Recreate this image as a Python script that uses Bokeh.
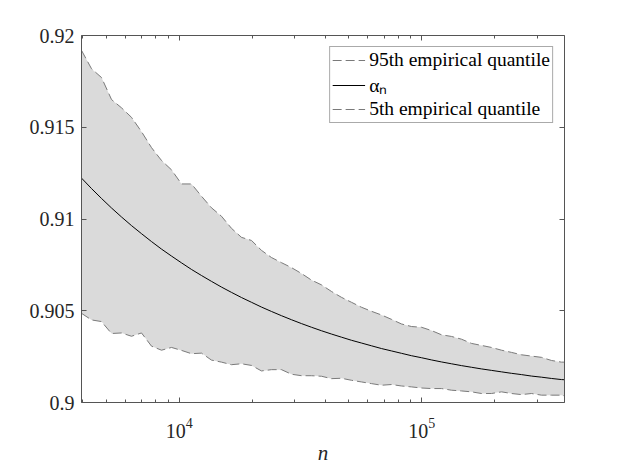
from bokeh.plotting import figure
from bokeh.models import (LogAxis, LinearAxis, FixedTicker, Legend, LegendItem,
                          Range1d)
from bokeh.embed import file_html
from bokeh.resources import INLINE

# sample sizes n
n_vals = [3956, 4350, 4783, 5260, 5783, 6359, 6992, 7688, 8454, 9295,
          10221, 11239, 12358, 13589, 14940, 16428, 18064, 19862, 21840, 24013,
          26405, 29033, 31924, 35103, 38598, 42441, 46666, 51312, 56421, 62039,
          68215, 75007, 82475, 90686, 99715, 109643, 120559, 132563, 145761, 160272,
          176230, 193776, 213069, 234283, 257608, 283256, 311459, 342470, 376566, 387443]

# 95th empirical quantile
q95 = [0.91919, 0.91819, 0.91771, 0.91651, 0.91606, 0.91554, 0.91476, 0.91389, 0.91319, 0.91268,
       0.91191, 0.91191, 0.91124, 0.91061, 0.91015, 0.90949, 0.90900, 0.90883, 0.90829, 0.90790,
       0.90762, 0.90735, 0.90703, 0.90667, 0.90641, 0.90605, 0.90573, 0.90546, 0.90519, 0.90497,
       0.90477, 0.90453, 0.90428, 0.90414, 0.90410, 0.90392, 0.90369, 0.90360, 0.90345, 0.90322,
       0.90311, 0.90300, 0.90285, 0.90273, 0.90260, 0.90253, 0.90246, 0.90229, 0.90220, 0.90220]

# alpha_n
alpha_n = [0.91223, 0.91166, 0.91112, 0.91060, 0.91011, 0.90964, 0.90920, 0.90877, 0.90836, 0.90798,
           0.90761, 0.90725, 0.90692, 0.90660, 0.90629, 0.90600, 0.90572, 0.90546, 0.90520, 0.90496,
           0.90473, 0.90451, 0.90430, 0.90410, 0.90391, 0.90373, 0.90356, 0.90339, 0.90324, 0.90309,
           0.90294, 0.90281, 0.90268, 0.90255, 0.90244, 0.90232, 0.90221, 0.90211, 0.90201, 0.90192,
           0.90183, 0.90175, 0.90167, 0.90159, 0.90152, 0.90144, 0.90138, 0.90131, 0.90125, 0.90124]

# 5th empirical quantile
q05 = [0.90486, 0.90450, 0.90441, 0.90376, 0.90379, 0.90361, 0.90379, 0.90307, 0.90285, 0.90300,
       0.90284, 0.90266, 0.90269, 0.90231, 0.90220, 0.90206, 0.90211, 0.90202, 0.90172, 0.90179,
       0.90179, 0.90154, 0.90146, 0.90146, 0.90143, 0.90130, 0.90132, 0.90121, 0.90112, 0.90103,
       0.90094, 0.90098, 0.90090, 0.90085, 0.90079, 0.90076, 0.90076, 0.90067, 0.90063, 0.90058,
       0.90049, 0.90049, 0.90058, 0.90049, 0.90043, 0.90049, 0.90040, 0.90040, 0.90040, 0.90036]

y_ticks = [0.9, 0.905, 0.91, 0.915, 0.92]
y_tick_labels = ["0.9", "0.905", "0.91", "0.915", "0.92"]
x_ticks = [1e4, 1e5]
x_minor = [2000, 3000, 4000, 5000, 6000, 7000, 8000, 9000,
           20000, 30000, 40000, 50000, 60000, 70000, 80000, 90000,
           200000, 300000, 400000, 500000]

SERIF = "Liberation Serif"
AX = "#555555"
TXT = "#262626"

p = figure(width=615, height=467, x_axis_type="log",
           x_range=Range1d(n_vals[0], n_vals[-1]), y_range=Range1d(0.9, 0.92),
           output_backend="svg", toolbar_location=None,
           min_border_left=81, min_border_right=51, min_border_top=35,
           min_border_bottom=63)
p.grid.visible = False
p.outline_line_color = None
p.background_fill_color = "white"
p.border_fill_color = "white"

p.varea(x=n_vals, y1=q05, y2=q95, fill_color="#dadada")
r95 = p.line(n_vals, q95, line_color="#7a7a7a", line_dash="9 4", line_width=1)
ra = p.line(n_vals, alpha_n, line_color="black", line_width=1)
r05 = p.line(n_vals, q05, line_color="#7a7a7a", line_dash="9 4", line_width=1)


def style(ax, labels=True):
    ax.axis_line_color = AX
    ax.axis_line_width = 1
    ax.major_tick_line_color = AX
    ax.minor_tick_line_color = AX
    ax.major_tick_in = 5
    ax.major_tick_out = 0
    ax.minor_tick_in = 3
    ax.minor_tick_out = 0
    ax.major_label_text_font = SERIF
    ax.major_label_text_color = TXT
    if not labels:
        ax.major_label_text_font_size = "8px"
        ax.major_label_text_alpha = 0
        ax.major_label_standoff = 0


xb = p.xaxis[0]
xb.ticker = FixedTicker(ticks=x_ticks, minor_ticks=x_minor)
style(xb)
xb.major_label_text_font_size = "20px"
xb.major_label_standoff = 15
xb.axis_label = "n"
xb.axis_label_text_font = SERIF
xb.axis_label_text_font_style = "italic"
xb.axis_label_text_font_size = "21px"
xb.axis_label_text_color = TXT
xb.axis_label_standoff = 0

yl = p.yaxis[0]
yl.ticker = FixedTicker(ticks=y_ticks)
style(yl)
yl.minor_tick_line_color = None
yl.major_label_text_font_size = "20px"
yl.major_label_standoff = 7
yl.major_label_overrides = {t: s for t, s in zip(y_ticks, y_tick_labels)}

xt = LogAxis(ticker=FixedTicker(ticks=x_ticks, minor_ticks=x_minor))
style(xt, labels=False)
p.add_layout(xt, "above")

yr = LinearAxis(ticker=FixedTicker(ticks=y_ticks))
style(yr, labels=False)
yr.minor_tick_line_color = None
p.add_layout(yr, "right")

legend = Legend(items=[
    LegendItem(label="95th empirical quantile", renderers=[r95]),
    LegendItem(label="\u03b1\u2099", renderers=[ra]),
    LegendItem(label="5th empirical quantile", renderers=[r05]),
], location="top_right")
legend.margin = 11
legend.padding = 2
legend.spacing = -4
legend.label_height = 20
legend.glyph_height = 20
legend.glyph_width = 33
legend.label_standoff = 4
legend.label_text_font = SERIF
legend.label_text_font_size = "19.5px"
legend.label_text_color = "black"
legend.border_line_color = AX
legend.border_line_width = 1
legend.background_fill_color = "white"
legend.background_fill_alpha = 1
p.add_layout(legend)

open("out.html", "w").write(file_html(p, INLINE))
